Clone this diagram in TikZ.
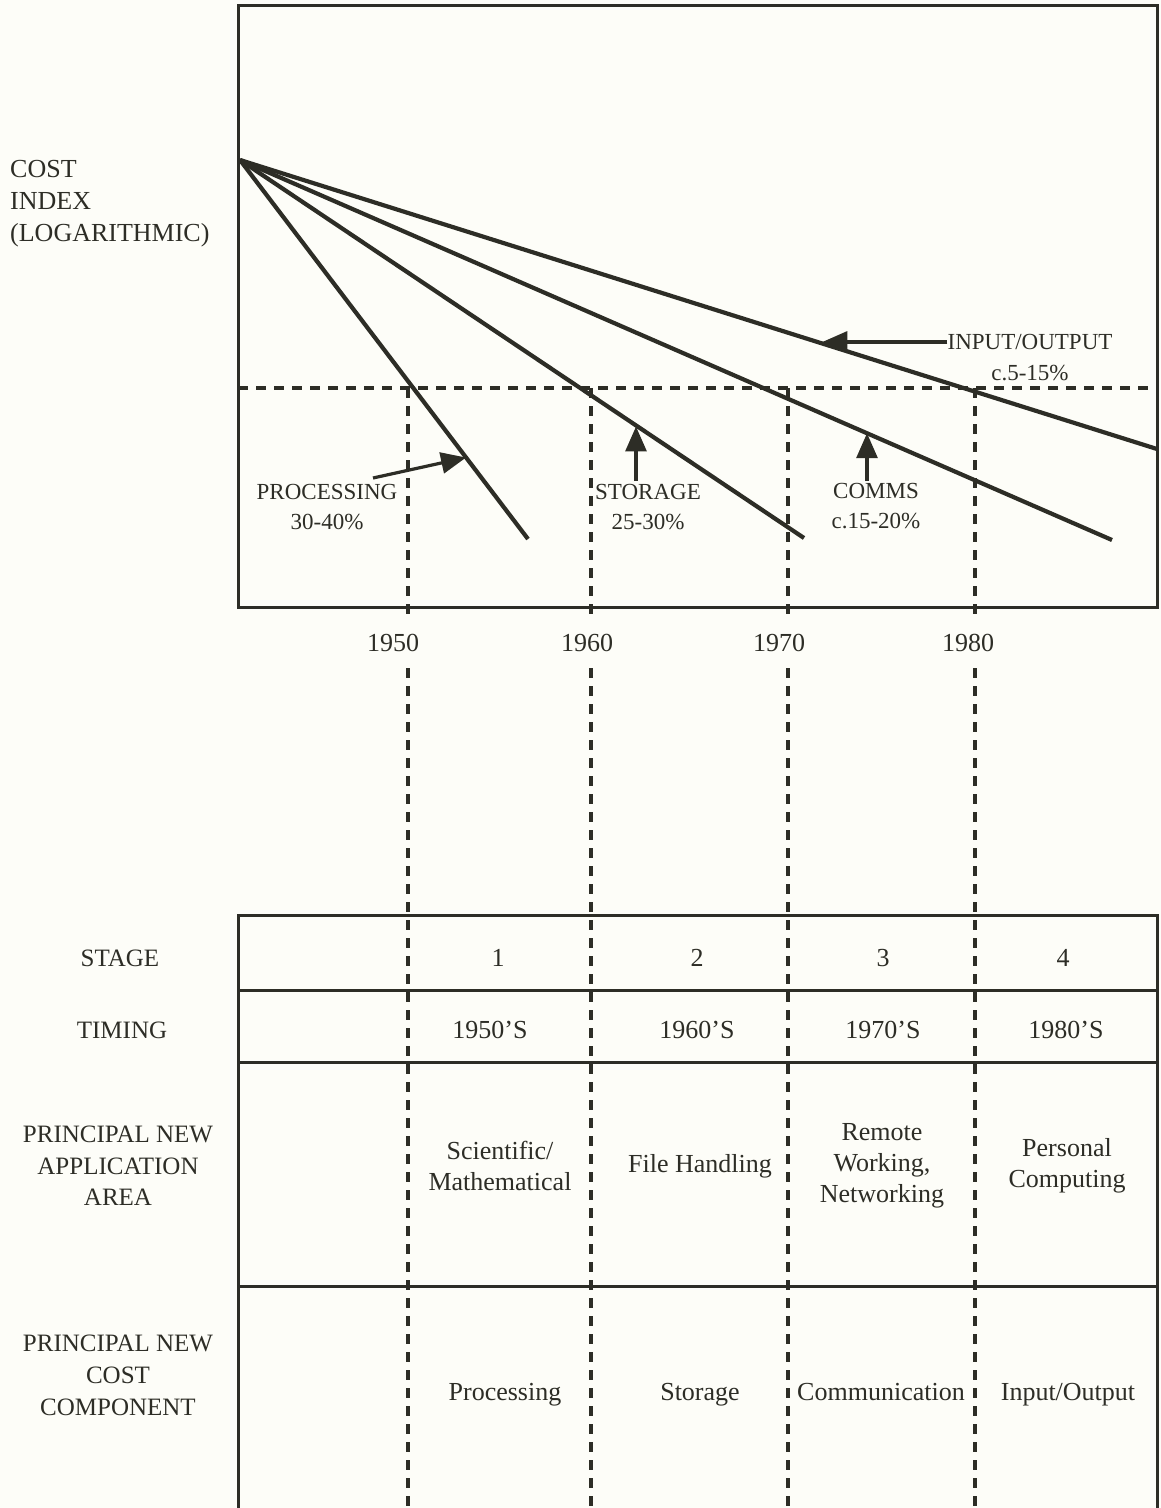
\documentclass[tikz,border=0pt]{standalone}
\usepackage{fontspec}
\setmainfont{Liberation Serif}
\usetikzlibrary{arrows.meta,calc}
\definecolor{ink}{RGB}{45,45,38}
\definecolor{paper}{RGB}{253,253,248}
\begin{document}
\begin{tikzpicture}[x=1pt,y=-1pt,
  frame/.style={draw=ink,line width=3pt},
  curve/.style={draw=ink,line width=4.2pt},
  guide/.style={draw=ink,line width=3.4pt,dash pattern=on 10pt off 8pt},
  pointer/.style={draw=ink,line width=3.2pt,-{Triangle[length=25pt,width=21pt]}},
  lbl/.style={font=\fontsize{23}{30}\selectfont,text=ink,align=center,inner sep=0pt},
  txt/.style={font=\fontsize{26}{31}\selectfont,text=ink,align=center,inner sep=0pt},
  rowlbl/.style={font=\fontsize{25}{31.5}\selectfont,text=ink,align=center,inner sep=0pt},
]
\fill[paper] (0,0) rectangle (1161,1508);
\useasboundingbox (0,0) rectangle (1161,1508);

% ---------- graph ----------
\draw[frame] (238,5) rectangle (1157,607);
\node[txt,align=left,anchor=west,font=\fontsize{26}{32}\selectfont] (axis) at (10,204) {COST\\INDEX\\(LOGARITHMIC)};

\coordinate (O) at (240,160);
\coordinate (Pe) at (528,539);
\coordinate (Se) at (804,538);
\coordinate (Ce) at (1112,540);
\coordinate (Ie) at (1157,449);
\draw[curve] (O) -- (Pe);
\draw[curve] (O) -- (Se);
\draw[curve] (O) -- (Ce);
\draw[curve] (O) -- (Ie);

% horizontal guide
\coordinate (hL) at (238,388);
\coordinate (hR) at (1157,388);
\draw[guide] (hL) -- (hR);

% year labels
\node[txt] (y50) at (393,643) {1950};
\node[txt] (y60) at (587,643) {1960};
\node[txt] (y70) at (779,643) {1970};
\node[txt] (y80) at (968,643) {1980};

% vertical guides
\foreach \x in {408,591,788,975}{
  \draw[guide] (\x,388) -- (\x,616);
  \draw[guide] (\x,668) -- (\x,1508);
}

% curve labels and pointers
\node[lbl] (proc) at (327,507) {PROCESSING\\30-40\%};
\coordinate (pTail) at (373,478);
\coordinate (pTip) at ($(O)!0.785!(Pe)$);
\draw[pointer] (pTail) -- (pTip);

\node[lbl] (stor) at (648,507) {STORAGE\\25-30\%};
\coordinate (sTip) at ($(O)!0.705!(Se)$);
\coordinate (sTail) at (636,481);
\draw[pointer] (sTail) -- (sTail |- sTip);

\node[lbl] (comm) at (876,506) {COMMS\\c.15-20\%};
\coordinate (cTip) at ($(O)!0.719!(Ce)$);
\coordinate (cTail) at (867,481);
\draw[pointer] (cTail) -- (cTail |- cTip);

\node[lbl] (io) at (1030,342) {INPUT/OUTPUT};
\node[lbl] (iopct) at (1030,373) {c.5-15\%};
\coordinate (iTip) at ($(O)!0.635!(Ie)$);
\draw[pointer] (io.west) -- (io.west -| iTip);

% ---------- table ----------
\draw[frame] (238,1508) -- (238,915) -- (1157,915) -- (1157,1508);
\draw[frame] (238,990) -- (1157,990);
\draw[frame] (238,1062) -- (1157,1062);
\draw[frame] (238,1286) -- (1157,1286);

\node[rowlbl] (stage) at (120,958) {STAGE};
\node[rowlbl] (timing) at (122,1030) {TIMING};
\node[rowlbl] (app) at (118,1166) {PRINCIPAL NEW\\APPLICATION\\AREA};
\node[rowlbl,font=\fontsize{25}{32}\selectfont] (cost) at (118,1375) {PRINCIPAL NEW\\COST\\COMPONENT};

\node[txt] (s1) at (498,958) {1};
\node[txt] (s2) at (697,958) {2};
\node[txt] (s3) at (883,958) {3};
\node[txt] (s4) at (1063,958) {4};

\node[txt] (t1) at (490,1030) {1950'S};
\node[txt] (t2) at (697,1030) {1960'S};
\node[txt] (t3) at (883,1030) {1970'S};
\node[txt] (t4) at (1066,1030) {1980'S};

\node[txt] (a1) at (500,1166) {Scientific/\\Mathematical};
\node[txt] (a2) at (700,1166) {File Handling};
\node[txt] (a3) at (882,1166) {Remote\\Working,\\Networking};
\node[txt] (a4) at (1067,1166) {Personal\\Computing};

\node[txt,anchor=base] (c1) at (505,1400) {Processing};
\node[txt,anchor=base] (c2) at (700,1400) {Storage};
\node[txt,anchor=base] (c3) at (881,1400) {Communication};
\node[txt,anchor=base] (c4) at (1068,1400) {Input/Output};
\end{tikzpicture}
\end{document}
